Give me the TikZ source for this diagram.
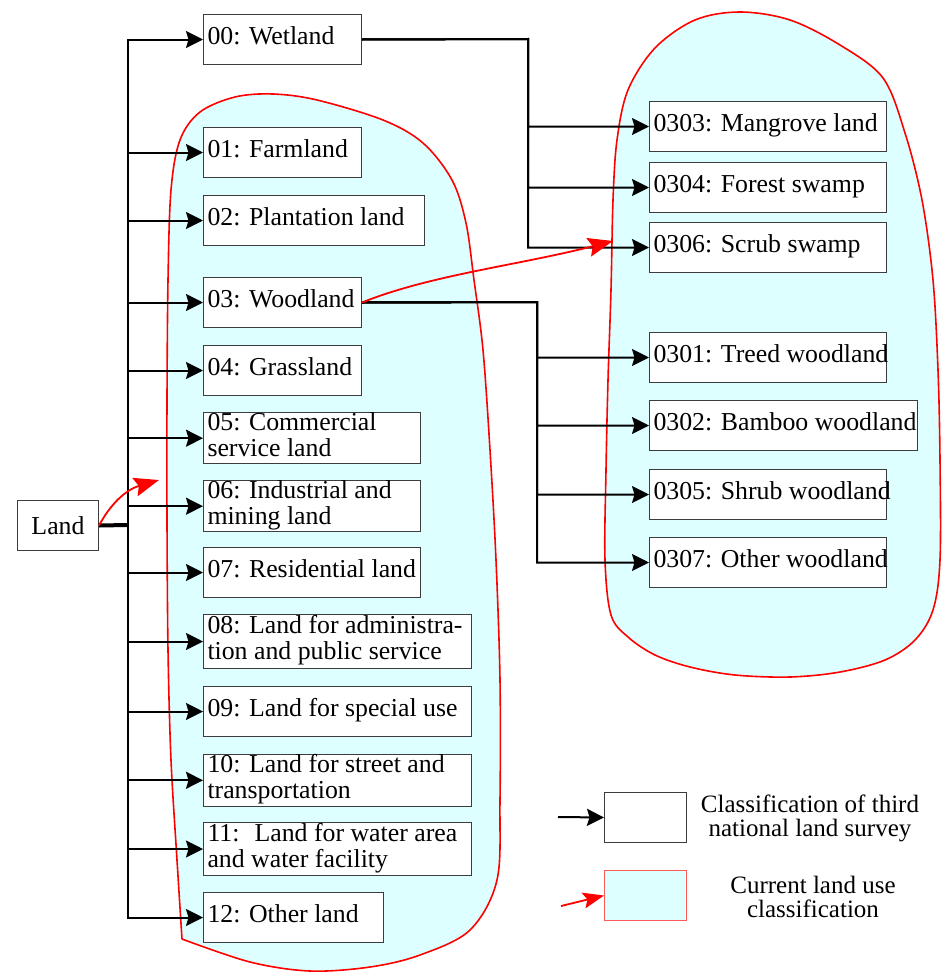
\documentclass[tikz,border=0pt]{standalone}
\usepackage{fontspec}
\setmainfont{Liberation Serif}
\usetikzlibrary{arrows.meta}
\definecolor{blobfill}{RGB}{222,255,255}
\definecolor{boxline}{RGB}{60,60,60}
\definecolor{legred}{RGB}{255,90,90}
\newcommand{\bt}[2]{\makebox[#1pt][l]{\begin{tabular}{@{}l@{}}#2\end{tabular}}}
\begin{document}
\begin{tikzpicture}[x=1pt,y=-1pt,
  every node/.style={font=\fontsize{25.8}{25.7}\selectfont},
  bx/.style={draw=boxline, line width=1pt, fill=white, anchor=north west,
    inner xsep=4pt, inner ysep=0pt, minimum height=50pt},
  ln/.style={line width=2pt, black},
  arr/.style={ln, -{Stealth[length=17pt,width=17pt,inset=2.5pt]}},
  rarr/.style={line width=1.8pt, red, -{Stealth[length=25pt,width=19pt,inset=4pt]}},
  blob/.style={draw=red, line width=1.6pt, fill=blobfill},
  legtxt/.style={align=center, font=\fontsize{25}{24}\selectfont}]

\useasboundingbox (0,0) rectangle (942,972);

% regions
\path[blob] plot[smooth, tension=0.55] coordinates {
  (182,939) (177,860) (171,760) (168,650) (167,520) (167,400) (168,280) (171,190)
  (180,140) (200,112) (235,97) (273,94) (317,100) (383,120) (423,143) (452,180)
  (466,223) (474,280) (483,350) (490,450) (496,560) (500,680) (500,800) (497,880)
  (470,930) (420,955) (370,967) (310,971) (250,962) (182,939)};
\path[blob] plot[smooth cycle, tension=0.55] coordinates {
  (605,560) (606,470) (608,380) (611,290) (613,200) (617,140) (628,90) (655,48)
  (695,20) (740,12) (790,20) (840,45) (883,78) (905,133) (922,200) (933,280)
  (938,370) (940,460) (940,560) (933,610) (915,640) (885,660) (840,672) (790,677)
  (735,675) (690,667) (655,655) (628,637) (611,615)};

% boxes
\node[bx, minimum width=81pt, inner xsep=0pt] (land) at (17,500) {Land};
\node[bx] (n00) at (203,14)  {\bt{150}{00: Wetland}};
\node[bx] (n01) at (203,127) {\bt{150}{01: Farmland}};
\node[bx] (n02) at (203,195) {\bt{213}{02: Plantation land}};
\node[bx] (n03) at (203,277) {\bt{150}{03: Woodland}};
\node[bx] (n04) at (203,345) {\bt{150}{04: Grassland}};
\node[bx] (n05) at (203,412) {\bt{209}{05: Commercial\\service land}};
\node[bx] (n06) at (203,480) {\bt{209}{06: Industrial and\\mining land}};
\node[bx] (n07) at (203,547) {\bt{209}{07: Residential land}};
\node[bx, minimum height=54pt] (n08) at (203,614) {\bt{260}{08: Land for administra-\\tion and public service}};
\node[bx] (n09) at (203,686) {\bt{260}{09: Land for special use}};
\node[bx] (n10) at (203,754) {\bt{260}{10: Land for street and\\transportation}};
\node[bx, minimum height=53pt] (n11) at (203,822) {\bt{260}{11:~ Land for water area\\and water facility}};
\node[bx] (n12) at (203,892) {\bt{172}{12: Other land}};

\node[bx] (n0303) at (649,101) {\bt{229}{0303: Mangrove land}};
\node[bx] (n0304) at (649,162) {\bt{229}{0304: Forest swamp}};
\node[bx] (n0306) at (649,222) {\bt{229}{0306: Scrub swamp}};
\node[bx] (n0301) at (649,332) {\bt{229}{0301: Treed woodland}};
\node[bx] (n0302) at (649,400) {\bt{260}{0302: Bamboo woodland}};
\node[bx] (n0305) at (649,469) {\bt{229}{0305: Shrub woodland}};
\node[bx] (n0307) at (649,537) {\bt{229}{0307: Other woodland}};

% connectors
\coordinate (tj) at (128,525);
\draw[line width=4pt] (land.east) -- (tj);
\foreach \n in {n00,n01,n02,n03,n04,n05,n06,n07,n08,n09,n10,n11,n12}
  \draw[arr] (tj) |- (\n.west);
\coordinate (wj) at (528,39);
\foreach \n in {n0303,n0304,n0306}
  \draw[arr] (n00.east) -- (wj) |- (\n.west);
\coordinate (wd) at (537,302);
\foreach \n in {n0301,n0302,n0305,n0307}
  \draw[arr] (n03.east) -- (wd) |- (\n.west);

% red arrows
\coordinate (r1) at (159,480);
\draw[rarr] (land.east) .. controls (110,505) and (125,490) .. (r1);
\coordinate (r2) at (613,241);
\draw[rarr] (n03.east) .. controls (430,275) and (520,265) .. (r2);

% legend
\node[bx, minimum width=82pt] (lg1) at (604,792) {};
\coordinate (lg1s) at (558,817);
\draw[arr] (lg1s) -- (lg1.west);
\node[bx, minimum width=82pt, fill=blobfill, draw=legred] (lg2) at (604,870) {};
\coordinate (lg2s) at (561,906);
\draw[rarr, -{Stealth[length=21pt,width=16pt,inset=4pt]}] (lg2s) -- (lg2.west);
\node[legtxt] (lt1) at (810,818) {Classification of third\\national land survey};
\node[legtxt] (lt2) at (813,897) {Current land use\\classification};
\end{tikzpicture}
\end{document}
